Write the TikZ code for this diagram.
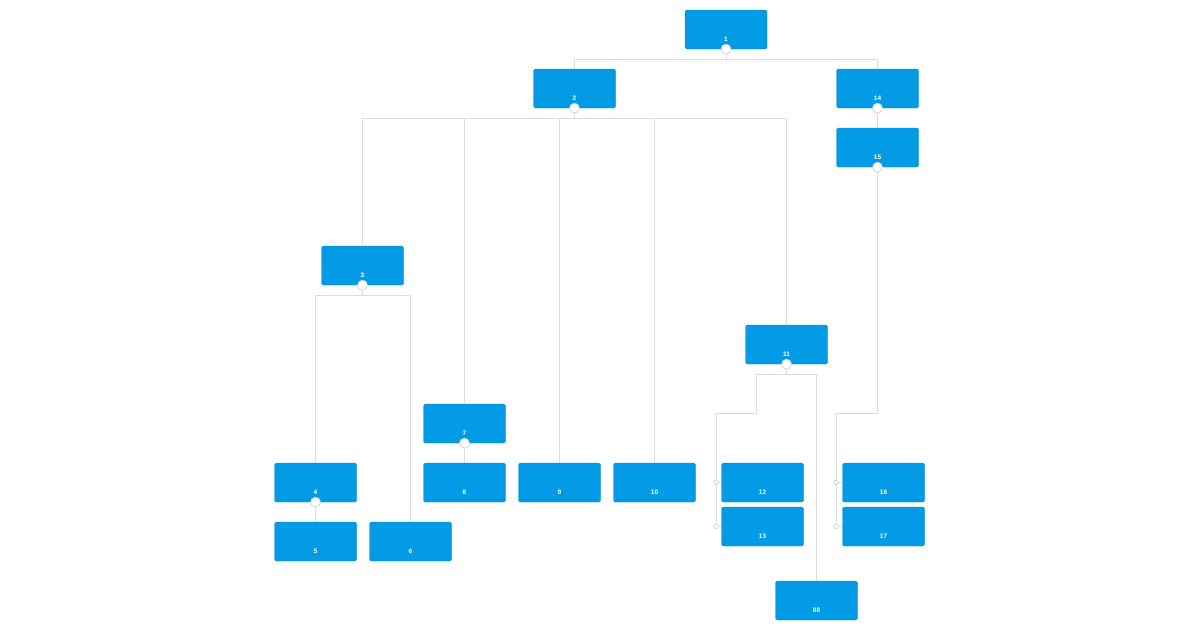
\documentclass[tikz,border=0pt]{standalone}
\usepackage{fontspec}
\setmainfont{Liberation Sans}
\usepackage{tikz}

\definecolor{cardblue}{HTML}{039BE5}
\definecolor{wire}{HTML}{DDDDDD}
\definecolor{knob}{HTML}{CFCFCF}

\tikzset{
  card/.style={fill=cardblue,draw=cardblue!85!black,line width=0.3pt,rounded corners=1.5pt,minimum width=82pt,minimum height=39pt,inner sep=0pt},
  cardtext/.style={text=white,font=\fontsize{6.5}{7}\selectfont\bfseries,inner sep=0pt},
  link/.style={draw=wire,line width=0.9pt},
  knobbig/.style={circle,fill=white,draw=knob,line width=0.7pt,minimum size=10pt,inner sep=0pt},
  knobsmall/.style={circle,fill=white,draw=knob,line width=0.6pt,minimum size=4.5pt,inner sep=0pt}
}

\newcommand{\card}[4]{%
  \node[card] (#1) at (#2,#3) {};
  \node[cardtext] (#1t) at ([yshift=10pt]#1.south) {#4};
}

\begin{document}
\begin{tikzpicture}[x=1pt,y=-1pt]
\useasboundingbox (0,0) rectangle (1200,630);
% cards
\card{n1}{726}{29.5}{1}
\card{n2}{574.5}{88.5}{2}
\card{n14}{877.5}{88.5}{14}
\card{n15}{877.5}{147.5}{15}
\card{n3}{362.5}{265.5}{3}
\card{n11}{786.5}{344.5}{11}
\card{n7}{464.5}{423.5}{7}
\card{n4}{315.5}{482.5}{4}
\card{n8}{464.5}{482.5}{8}
\card{n9}{559.5}{482.5}{9}
\card{n10}{654.5}{482.5}{10}
\card{n12}{762.5}{482.5}{12}
\card{n13}{762.5}{526.5}{13}
\card{n16}{883.5}{482.5}{16}
\card{n17}{883.5}{526.5}{17}
\card{n5}{315.5}{541.5}{5}
\card{n6}{410.5}{541.5}{6}
\card{n88}{816.5}{600.5}{88}
% bends
\coordinate (b11) at (756,413);
\coordinate (c12) at (716,482.5);
\coordinate (c13) at (716,526.5);
\coordinate (b15) at (836,413);
\coordinate (c16) at (836,482.5);
\coordinate (c17) at (836,526.5);
% links
\draw[link] (n1.south) -- ([yshift=-10pt]n1.south) -| (n2.north);
\draw[link] ([yshift=-10pt]n1.south) -| (n14.north);
\draw[link] (n14.south) -- (n15.north);
\draw[link] (n2.south) -- ([yshift=-10pt]n2.south) -| (n3.north);
\draw[link] ([yshift=-10pt]n2.south) -| (n7.north);
\draw[link] ([yshift=-10pt]n2.south) -| (n9.north);
\draw[link] ([yshift=-10pt]n2.south) -| (n10.north);
\draw[link] ([yshift=-10pt]n2.south) -| (n11.north);
\draw[link] (n3.south) -- ([yshift=-10pt]n3.south) -| (n4.north);
\draw[link] ([yshift=-10pt]n3.south) -| (n6.north);
\draw[link] (n4.south) -- (n5.north);
\draw[link] (n7.south) -- (n8.north);
\draw[link] (n11.south) -- ([yshift=-10pt]n11.south) -| (b11) -| (c13);
\draw[link] ([yshift=-10pt]n11.south) -| (n88.north);
\draw[link] (c12) -- (n12.west);
\draw[link] (c13) -- (n13.west);
\draw[link] (n15.south) |- (b15) -- (c17);
\draw[link] (c16) -- (n16.west);
\draw[link] (c17) -- (n17.west);
% knobs
\foreach \n in {n1,n2,n3,n4,n7,n11,n14,n15}
  \node[knobbig] at (\n.south) {};
\foreach \c in {c12,c13,c16,c17}
  \node[knobsmall] at (\c) {};
\end{tikzpicture}
\end{document}
